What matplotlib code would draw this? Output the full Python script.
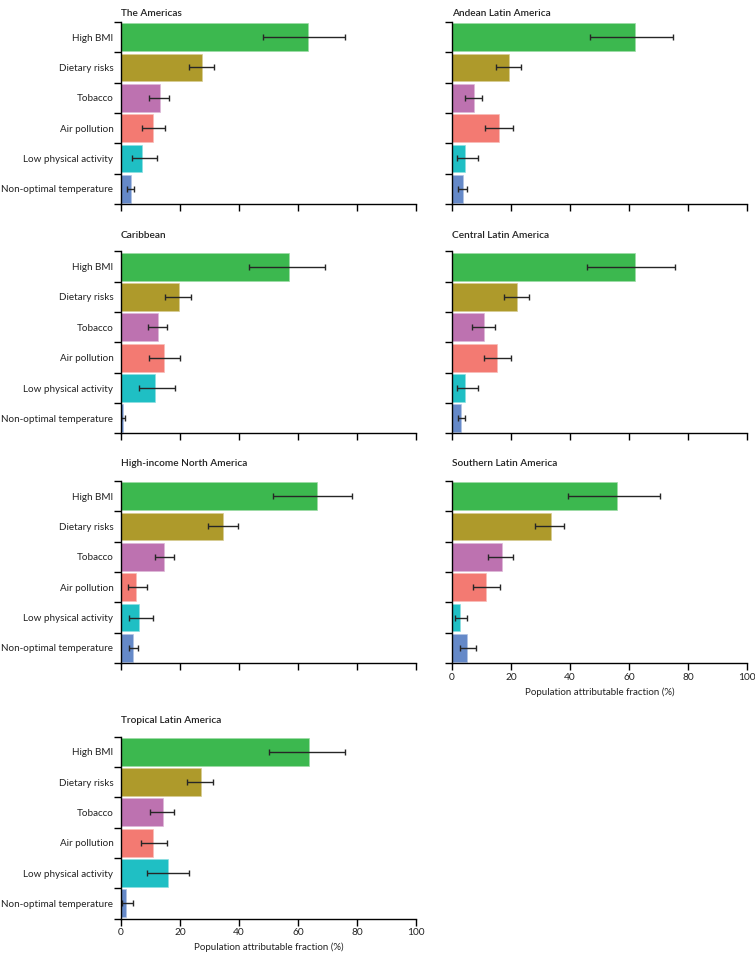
import numpy as np
import matplotlib
matplotlib.use("Agg")
import matplotlib.pyplot as plt
from matplotlib.colors import to_rgb

plt.rcParams['font.family'] = ['Lato', 'DejaVu Sans']

risks = ["High BMI", "Dietary risks", "Tobacco", "Air pollution",
         "Low physical activity", "Non-optimal temperature"]
colors = ["#3cb84f", "#ae9a2b", "#bd72b0", "#f37a72", "#1fbfc4", "#6589c8"]

regions = ["The Americas", "Andean Latin America", "Caribbean",
           "Central Latin America", "High-income North America",
           "Southern Latin America", "Tropical Latin America"]

# population attributable fraction (%), with lower / upper uncertainty bounds
americas = [63.3, 27.3, 13.1, 10.7, 7.2, 3.3]
americas_lo = [48.2, 23.0, 9.4, 7.2, 3.6, 2.1]
americas_hi = [75.8, 31.6, 16.4, 14.8, 12.2, 4.4]

andean = [62.2, 19.3, 7.5, 16.1, 4.5, 3.6]
andean_lo = [46.9, 14.9, 4.5, 11.2, 1.7, 2.0]
andean_hi = [75.0, 23.5, 10.1, 20.6, 8.8, 5.2]

caribbean = [57.1, 19.6, 12.6, 14.5, 11.5, 0.6]
caribbean_lo = [43.3, 14.9, 9.0, 9.5, 6.1, 0.0]
caribbean_hi = [69.3, 23.6, 15.7, 19.9, 18.3, 1.2]

central = [62.2, 22.2, 11.0, 15.4, 4.4, 3.2]
central_lo = [45.8, 17.6, 6.9, 10.9, 1.6, 2.0]
central_hi = [75.7, 26.2, 14.6, 19.9, 8.8, 4.5]

hina = [66.6, 34.7, 14.7, 5.2, 6.0, 4.1]
hina_lo = [51.5, 29.5, 11.5, 2.5, 2.6, 2.8]
hina_hi = [78.3, 39.5, 18.1, 8.9, 10.7, 5.9]

southern = [55.8, 33.4, 16.9, 11.5, 2.6, 5.2]
southern_lo = [39.4, 28.3, 12.2, 7.2, 1.0, 2.8]
southern_hi = [70.6, 37.8, 20.8, 16.3, 5.2, 8.3]

tropical = [63.8, 27.0, 14.2, 10.9, 15.9, 1.6]
tropical_lo = [50.3, 22.4, 9.9, 6.9, 8.9, 0.2]
tropical_hi = [75.9, 31.1, 18.1, 15.7, 23.1, 4.2]

data = [(americas, americas_lo, americas_hi), (andean, andean_lo, andean_hi),
        (caribbean, caribbean_lo, caribbean_hi), (central, central_lo, central_hi),
        (hina, hina_lo, hina_hi), (southern, southern_lo, southern_hi),
        (tropical, tropical_lo, tropical_hi)]

# lighter outline round each bar
edges = [tuple(0.5 * np.array(to_rgb(col)) + 0.5) for col in colors]

W, H = 755, 955
fig = plt.figure(figsize=(W / 100, H / 100), dpi=100)

# panel placement in pixels
col_x = [121, 452]
row_top = [22, 251.5, 481, 736.5]
title_y = [14, 235, 464, 720]
ax_w, ax_h = 295, 182

for i, (region, (val, lo, hi)) in enumerate(zip(regions, data)):
    r, c = divmod(i, 2)
    ax = fig.add_axes([col_x[c] / W, 1 - (row_top[r] + ax_h) / H, ax_w / W, ax_h / H])
    y = np.arange(len(risks))
    val = np.array(val)
    err = [val - np.array(lo), np.array(hi) - val]
    ax.barh(y, val, height=0.92, color=colors, edgecolor=edges, linewidth=0.5)
    ax.errorbar(val, y, xerr=err, fmt="none", ecolor="#262626", elinewidth=1.0,
                capsize=2.3, capthick=1.0)
    ax.set_xlim(0, 100)
    ax.set_ylim(len(risks) - 0.5, -0.5)
    ax.set_yticks(y)
    ax.set_yticks(np.arange(len(risks) + 1) - 0.5, minor=True)
    ax.tick_params(axis="y", which="major", length=0, pad=5.5, labelsize=7.1,
                   labelcolor="#222222")
    ax.tick_params(axis="y", which="minor", length=5, width=1)
    ax.tick_params(axis="x", length=5, width=1, labelsize=7.3, pad=2,
                   labelcolor="#222222")
    ax.set_xticks([0, 20, 40, 60, 80, 100])
    if c == 0:
        ax.set_yticklabels(risks)
    else:
        ax.set_yticklabels([])
    if i in (5, 6):
        ax.set_xlabel("Population attributable fraction (%)", fontsize=7,
                      labelpad=4, color="#222222")
    else:
        ax.set_xticklabels([])
    for s in ("top", "right"):
        ax.spines[s].set_visible(False)
    for s in ("left", "bottom"):
        ax.spines[s].set_linewidth(1)
    fig.text(col_x[c] / W, 1 - title_y[r] / H, region, fontsize=7.3,
             fontweight="semibold", ha="left", va="center", color="#222222")

fig.savefig("out.png", dpi=100)
